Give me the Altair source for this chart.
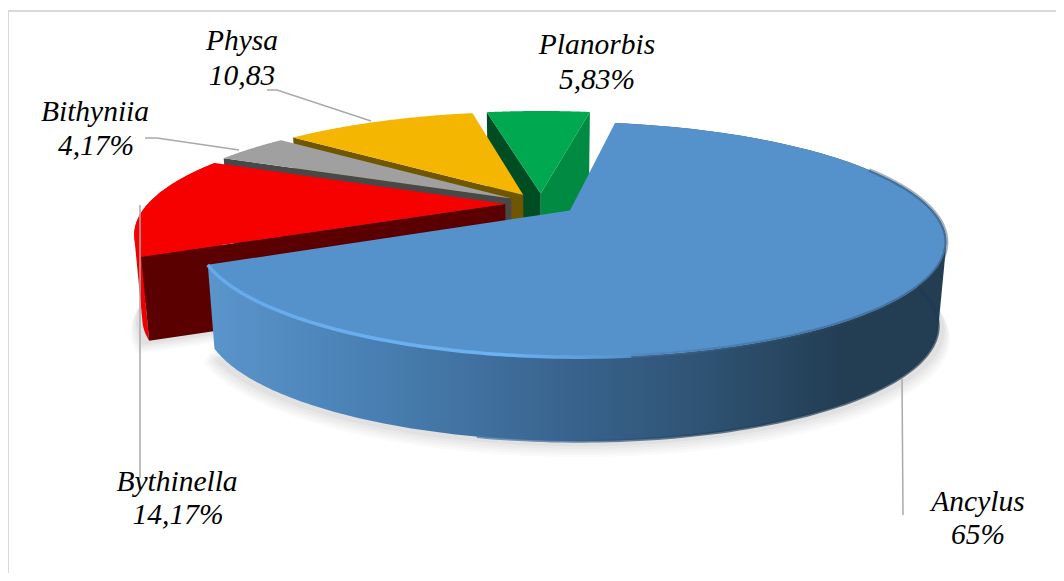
import math
import altair as alt
import pandas as pd

# ---- chart data -------------------------------------------------------
NAMES = ["Ancylus", "Bythinella", "Bithyniia", "Physa", "Planorbis"]
SHARES = [65.0, 14.17, 4.17, 10.83, 5.83]
VALUE_TEXT = ["65%", "14,17%", "4,17%", "10,83", "5,83%"]

# ---- styling ----------------------------------------------------------
TOP = ["#5592CC", "#F70000", "#A0A0A0", "#F4B600", "#00A84F"]
INNER = [None, "#5A0000", "#484848", "#6F5600", "#004D24"]
OUTER_RED = "#EE0000"
GREEN_SIDE = "#008A42"

# ---- layout (canvas units) --------------------------------------------
W, H = 1048, 565
FONT = "Liberation Serif"
FONT_SIZE = 29.5
START_CW = 10.0         # first slice angle, degrees clockwise from the back
EXPLODE = 0.1
X0, Y0, RX, RY, PERSP = 533.0, 196.0, 357.5, 107.2, 0.2434
DEPTH, BOTTOM_SCALE = 84.0, 0.98
LABEL_LINE1 = [(970, 494), (169, 474), (87, 104), (234, 33), (589, 37)]
LABEL_LINE2 = [(970, 527), (170, 507), (88, 138), (234, 68), (589, 72)]
LEADERS = [
    [(894, 370), (895, 507)],
    [(132, 197), (132, 470)],
    [(137, 130), (149, 130), (231, 142)],
    [(259, 82), (269, 82), (363, 113)],
]
FRAME = [(0, H), (0, 3), (W, 3)]


def proj(x, y):
    p = 1.0 / (1.0 + PERSP * y)
    return (X0 + RX * x * p, Y0 - RY * y * p)


def drop(pt, extra=0.0, scale=BOTTOM_SCALE):
    return (X0 + (pt[0] - X0) * scale, pt[1] + DEPTH + extra)


# slice angles come from the shares
bounds = []
a = START_CW
for s in SHARES:
    bounds.append((a, a + s * 3.6))
    a += s * 3.6


def offset(i):
    mid = math.radians(sum(bounds[i]) / 2)
    return EXPLODE * math.sin(mid), EXPLODE * math.cos(mid)


def rim(i, t, r=1.0):
    """Rim point of slice i at fraction t of its arc (screen space)."""
    ang = math.radians(bounds[i][0] + (bounds[i][1] - bounds[i][0]) * t)
    ox, oy = offset(i)
    return proj(ox + r * math.sin(ang), oy + r * math.cos(ang))


def apex(i):
    return proj(*offset(i))


def arc(i, t0=0.0, t1=1.0, r=1.0, n=90):
    return [rim(i, t0 + (t1 - t0) * k / n, r) for k in range(n + 1)]


def ring(pts):
    coords = [[round(x, 2), round(y, 2)] for x, y in pts]
    return coords + [coords[0]]


def signed_area(pts):
    return sum(pts[k][0] * pts[(k + 1) % len(pts)][1] - pts[(k + 1) % len(pts)][0] * pts[k][1]
               for k in range(len(pts)))


def feat(pts, fill=None, op=1.0, line=False):
    if line:
        geom = {"type": "LineString",
                "coordinates": [[round(x, 2), round(y, 2)] for x, y in pts]}
    else:
        geom = {"type": "Polygon", "coordinates": [ring(pts)]}
    return {"type": "Feature", "geometry": geom,
            "properties": {"fill": fill, "opacity": op}}


def outer_wall(i, fill=None, n=120):
    """Swept side of a slice: overlapping quads of one winding, so the silhouette stays closed."""
    pts = arc(i, n=n)
    polys = []
    for k in range(n):
        j = min(k + 2, n)
        quad = [pts[k], pts[j], drop(pts[j]), drop(pts[k])]
        if signed_area(quad) < 0:
            quad = quad[::-1]
        polys.append([ring(quad)])
    return {"type": "Feature",
            "geometry": {"type": "MultiPolygon", "coordinates": polys},
            "properties": {"fill": fill, "opacity": 1.0}}


def radial_wall(i, t):
    r_pt, c_pt = rim(i, t), apex(i)
    return [r_pt, c_pt, drop(c_pt), drop(r_pt)]


def top_face(i):
    return [apex(i)] + arc(i)


# ---- painter's order --------------------------------------------------
back = [feat([(0, 0), (W, 0), (W, H), (0, H)], "#FFFFFF")]

# soft shadow under the exploded slices
SHADOW = [(12, 1.02, 0.018), (10, 1.017, 0.02), (8, 1.014, 0.022),
          (6, 1.01, 0.025), (4, 1.006, 0.03)]
for extra, r, op in SHADOW:
    for i in (0, 1):
        shadow_ring = [drop(p, extra, 0.99) for p in arc(i, r=r)]
        back.append(feat([drop(apex(i), extra, 0.99)] + shadow_ring, "#000000", op))

# Planorbis, Physa, Bithyniia, Bythinella from the back forwards
back += [feat(radial_wall(4, 1), GREEN_SIDE), feat(radial_wall(4, 0), INNER[4]),
         feat(top_face(4), TOP[4])]
back += [feat(radial_wall(3, 0), INNER[3]), feat(top_face(3), TOP[3])]
back += [feat(radial_wall(2, 0), INNER[2]), feat(top_face(2), TOP[2])]
back += [outer_wall(1, OUTER_RED), feat(radial_wall(1, 0), INNER[1]),
         feat(top_face(1), TOP[1])]

blue_top = [feat(top_face(0), TOP[0])]
blue_wall = [outer_wall(0)]
rim_glow = [feat(arc(0, 0.70, 1.0), line=True)]
rim_shade = [feat(arc(0, 0.24, 0.70), line=True)]
rim_foot = [feat([drop(p) for p in arc(0, 0.33, 0.78)], line=True)]
leaders = [feat(pts, line=True) for pts in LEADERS]
frame = [feat(FRAME, line=True)]


def geo_data(features):
    return alt.InlineData(
        values={"type": "FeatureCollection", "features": features},
        format=alt.DataFormat(type="json", property="features"),
    )


PROJECTION = dict(type="identity", scale=1, translate=[0, 0])


def gradient(stops):
    return alt.Gradient(gradient="linear", x1=0, x2=1, y1=0, y2=0,
                        stops=[alt.GradientStop(offset=o, color=c) for o, c in stops])


WALL_STOPS = [(0.0, "#5A95CB"), (0.2, "#4A82B6"), (0.47, "#3A6590"),
              (0.68, "#2E5272"), (0.86, "#233D53"), (1.0, "#233D53")]

base = alt.Chart(geo_data(back)).mark_geoshape(strokeWidth=0).encode(
    fill=alt.Fill("properties.fill:N", scale=None),
    opacity=alt.Opacity("properties.opacity:Q", scale=None),
).project(**PROJECTION)

wall_layer = alt.Chart(geo_data(blue_wall)).mark_geoshape(
    fill=gradient(WALL_STOPS), strokeWidth=0
).project(**PROJECTION)

foot_layer = alt.Chart(geo_data(rim_foot)).mark_geoshape(
    filled=False,
    stroke=gradient([(0, "#4479AC"), (0.5, "#23405C"), (1, "#1F3A50")]),
    strokeWidth=3, opacity=0.7,
).project(**PROJECTION)

top_layer = alt.Chart(geo_data(blue_top)).mark_geoshape(fill=TOP[0], strokeWidth=0).project(
    **PROJECTION)

shade_layer = alt.Chart(geo_data(rim_shade)).mark_geoshape(
    filled=False,
    stroke=gradient([(0, "#4A7FB0"), (0.5, "#2F5578"), (1, "#233D53")]),
    strokeWidth=4, opacity=0.4,
).project(**PROJECTION)

glow_layer = alt.Chart(geo_data(rim_glow)).mark_geoshape(
    filled=False,
    stroke=gradient([(0, "#66AAEC"), (0.7, "#6DB2F2"), (1, "#5592CC")]),
    strokeWidth=3.5,
).project(**PROJECTION)

line_layer = alt.Chart(geo_data(leaders)).mark_geoshape(
    filled=False, stroke="#A9A9A9", strokeWidth=1.5
).project(**PROJECTION)

frame_layer = alt.Chart(geo_data(frame)).mark_geoshape(
    filled=False, stroke="#D9D9D9", strokeWidth=2
).project(**PROJECTION)

rows = []
for name, val, l1, l2 in zip(NAMES, VALUE_TEXT, LABEL_LINE1, LABEL_LINE2):
    rows.append({"x": l1[0], "y": l1[1], "t": name})
    rows.append({"x": l2[0], "y": l2[1], "t": val})

text_layer = alt.Chart(pd.DataFrame(rows)).mark_text(
    font=FONT, fontStyle="italic", fontSize=FONT_SIZE, color="#000000", baseline="middle",
    align="center",
).encode(
    x=alt.X("x:Q", scale=alt.Scale(domain=[0, W]), axis=None),
    y=alt.Y("y:Q", scale=alt.Scale(domain=[H, 0]), axis=None),
    text="t:N",
)

chart = alt.layer(
    base, wall_layer, foot_layer, top_layer, shade_layer, glow_layer, frame_layer,
    line_layer, text_layer,
).properties(
    width=W, height=H, padding=0, background="#FFFFFF"
).configure_view(stroke=None)

chart.save("out.html", embed_options={"renderer": "svg", "actions": False})
